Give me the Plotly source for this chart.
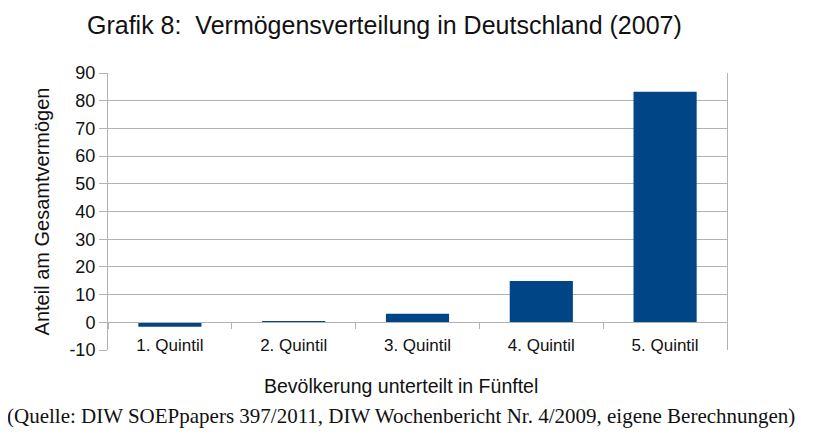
import plotly.graph_objects as go

categories = ["1. Quintil", "2. Quintil", "3. Quintil", "4. Quintil", "5. Quintil"]
values = [-1.6, 0.2, 3.1, 14.9, 83.2]
y_ticks = [-10, 0, 10, 20, 30, 40, 50, 60, 70, 80, 90]

title_text = "Grafik 8:  Vermögensverteilung in Deutschland (2007)"
y_title = "Anteil am Gesamtvermögen"
x_title = "Bevölkerung unterteilt in Fünftel"
source_text = "(Quelle: DIW SOEPpapers 397/2011, DIW Wochenbericht Nr. 4/2009, eigene Berechnungen)"

FONT = "Liberation Sans, Arial, sans-serif"
GRID = "#b3b3b3"
INK = "#111111"

fig = go.Figure()
fig.add_trace(go.Bar(x=categories, y=values, marker_color="#004586",
                     marker_line_width=0, showlegend=False))

ymin, ymax = y_ticks[0], y_ticks[-1]
zero_pos = (0 - ymin) / (ymax - ymin)

fig.update_layout(
    width=828, height=446,
    margin=dict(l=100, r=109, t=65, b=104),
    paper_bgcolor="white", plot_bgcolor="white",
    bargap=0.49,
    font=dict(family=FONT, color=INK, size=17),
    xaxis=dict(
        type="category", anchor="free", position=zero_pos,
        showline=True, linecolor=GRID, linewidth=1,
        ticks="outside", tickson="boundaries", ticklen=6, tickcolor=GRID,
        ticklabelstandoff=7,
        showgrid=False, tickfont=dict(size=17, family=FONT, color=INK),
    ),
    yaxis=dict(
        range=[ymin, ymax], tickvals=y_ticks, ticktext=[str(v) for v in y_ticks],
        showgrid=True, gridcolor=GRID, gridwidth=1,
        zeroline=False, showline=True, linecolor=GRID, mirror=True,
        ticks="outside", ticklen=8, tickcolor=GRID,
        tickfont=dict(size=18, family=FONT, color=INK),
        title=dict(text=y_title, font=dict(size=20, family=FONT, color=INK), standoff=14),
    ),
    annotations=[
        dict(text=title_text, xref="paper", yref="paper", x=0.447, y=1.0, yshift=48,
             showarrow=False, font=dict(size=25, family=FONT, color=INK),
             xanchor="center", yanchor="middle"),
        dict(text=x_title, xref="paper", yref="paper", x=0.473, y=0, yshift=-36,
             showarrow=False, font=dict(size=19.5, family=FONT, color=INK),
             xanchor="center", yanchor="middle"),
        dict(text=source_text, xref="paper", yref="paper", x=0.473, y=0, yshift=-66,
             showarrow=False, font=dict(size=21, family="Liberation Serif, Times New Roman, serif", color=INK),
             xanchor="center", yanchor="middle"),
    ],
)

fig.write_html("out.html")
